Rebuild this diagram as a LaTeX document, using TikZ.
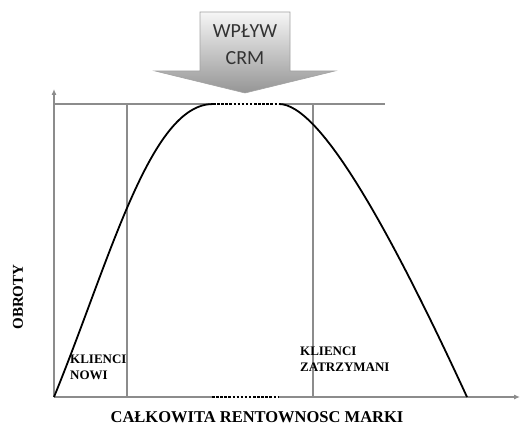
\documentclass[tikz,border=0pt]{standalone}
\usepackage{fontspec}
\setmainfont{Liberation Serif}
\newfontfamily\crmfont{Carlito}
\usetikzlibrary{arrows.meta, positioning, calc}
\definecolor{guidegray}{HTML}{8C8C8C}
\definecolor{crmtext} {HTML}{333333}
\definecolor{crmtop}  {HTML}{F6F6F6}
\definecolor{crmbot}  {HTML}{959595}

\begin{document}
\begin{tikzpicture}[x=1pt, y=-1pt,
    guide/.style={draw=guidegray, line width=1.1pt},
    axisline/.style={guide, -{Latex[length=6pt, width=5pt]}},
    profit/.style={draw=black, line width=1.8pt},
    dotgap/.style={draw=black, line width=2pt, dash pattern=on 2.5pt off 1.6pt},
    seglabel/.style={font=\bfseries\fontsize{13}{16}\selectfont, align=left,
                     inner sep=0pt, anchor=north west}]
  \useasboundingbox (0,0) rectangle (520,425);
  \coordinate (O)     at (54,397);
  \coordinate (ytop)  at (54,89);
  \coordinate (xend)  at (520,397);
  \coordinate (b1)    at (212,397);
  \coordinate (b2)    at (279,397);
  \coordinate (tl)    at (54,104);
  \coordinate (t1)    at (213,104);
  \coordinate (t2)    at (279,104);
  \coordinate (tr)    at (385,104);
  \coordinate (nowi)  at (127,104);
  \coordinate (zatrz) at (313,104);
  \coordinate (end)   at (467,397);
  % axes and guides
  \draw[axisline] (O) -- (ytop);
  \draw[guide] (O) -- (b1);
  \draw[dotgap] (b1) -- (b2);
  \draw[axisline] (b2) -- (xend);
  \draw[guide] (tl) -- (t1);
  \draw[guide] (t2) -- (tr);
  \draw[guide] (nowi) -- (nowi |- O);
  \draw[guide] (zatrz) -- (zatrz |- O);
  % profit curve
  \draw[profit] (O) .. controls (110,260) and (150,104) .. (t1);
  \draw[dotgap] (t1) -- (t2);
  \draw[profit] (t2) .. controls (320,104) and (390,230) .. (end);
  % CRM arrow
  \draw[draw=guidegray!80, line width=0.6pt, top color=crmtop, bottom color=crmbot]
    (200,12) -- (290,12) -- (290,71) -- (335,71) -- (245,93) -- (155,71) -- (200,71) -- cycle;
  \node[font=\crmfont\fontsize{20}{27}\selectfont, text=crmtext, align=center]
    (crm) at (245,45) {WPŁYW\\CRM};
  % labels
  \node[seglabel] (newcl) at (70,355) {KLIENCI\\NOWI};
  \node[seglabel] (keptcl) at (300,347) {KLIENCI\\ZATRZYMANI};
  \node[font=\bfseries\fontsize{15}{18}\selectfont, rotate=90] (yname) at (18,297) {OBROTY};
  \node[font=\bfseries\fontsize{16.5}{18}\selectfont] (xname) at (257,417) {CAŁKOWITA RENTOWNOSC MARKI};
\end{tikzpicture}
\end{document}
